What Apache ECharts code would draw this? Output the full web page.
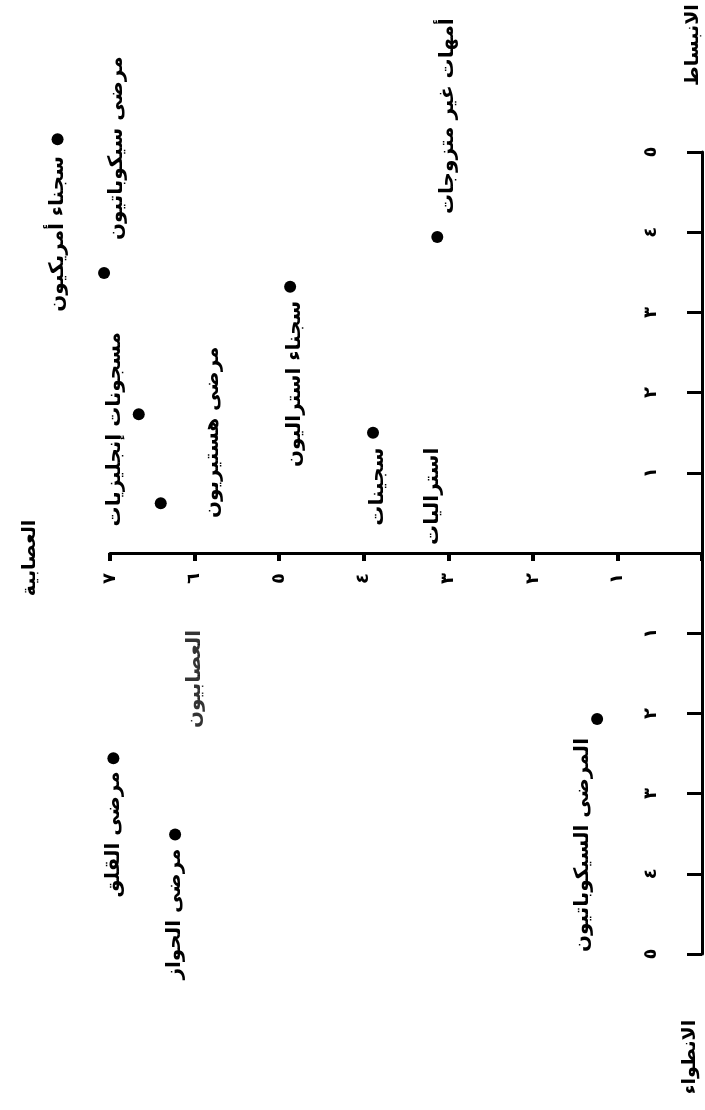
<!DOCTYPE html>
<html><head><meta charset="utf-8">
<script src="https://cdn.jsdelivr.net/npm/echarts@6/dist/echarts.min.js"></script>
<style>html,body{margin:0;padding:0;background:#fff}#c{width:705px;height:1110px}</style>
</head><body><div id="c"></div>
<script>
// ---- data ----
const groups = ['سجناء أمريكيون', 'مرضى سيكوباتيون', 'أمهات غير متزوجات', 'سجناء استراليون', 'مسجونات إنجليزيات', 'مرضى هستيريون', 'سجينات\nاستراليات', 'مرضى القلق', 'مرضى الحواز', 'المرضى السيكوباتيون'];
const neuroticism = [7.62, 7.07, 3.13, 4.87, 6.66, 6.40, 3.89, 6.96, 6.23, 1.24];
const extraversion = [5.16, 3.49, 3.94, 3.32, 1.73, 0.62, 1.50, -2.56, -3.51, -2.07];
const regionNames = ['العصابيون'];
const regionNeuroticism = [6.0];
const regionExtraversion = [-1.57];
const tickDigits = ['٠', '١', '٢', '٣', '٤', '٥', '٦', '٧'];
const axisTitles = { extraversion: 'الانبساط', introversion: 'الانطواء', neuroticism: 'العصابية' };

// ---- label placement (style) ----
const placement = [
  { dx: 0, dy: 17, dir: 'down' },
  { dx: 13, dy: -33, dir: 'up' },
  { dx: 11, dy: -23, dir: 'up' },
  { dx: 5, dy: 14, dir: 'down' },
  { dx: -24, dy: 15, dir: 'center' },
  { dx: 52, dy: -71, dir: 'center' },
  { dx: -23, dy: 15, dir: 'down', va: 'top', lh: 55 },
  { dx: 0, dy: 13, dir: 'down' },
  { dx: 0, dy: 14, dir: 'down' },
  { dx: -14, dy: 19, dir: 'down' }
];
const FONT = 'DejaVu Sans';
const SYM = 12;
const GRID = { left: 110, right: 3, top: 152, bottom: 156 };

function labelFor(p, size) {
  const align = p.dir === 'down' ? 'right' : (p.dir === 'up' ? 'left' : 'center');
  const o = {
    show: true, rotate: 90, formatter: '{b}',
    position: [size / 2 + p.dx, size / 2 + p.dy],
    align: align, verticalAlign: p.va || 'middle',
    color: '#000', fontSize: 20, fontWeight: 'bold', fontFamily: FONT
  };
  if (p.lh) o.lineHeight = p.lh;
  return o;
}

const points = groups.map((g, i) => ({
  name: g, value: [neuroticism[i], extraversion[i]], label: labelFor(placement[i], SYM)
}));
const regionPoints = regionNames.map((g, i) => ({
  name: g, value: [regionNeuroticism[i], regionExtraversion[i]],
  label: labelFor({ dx: 0, dy: 0, dir: 'center' }, 0)
}));

const titleStyle = { fill: '#000', font: 'bold 19px "' + FONT + '"', align: 'center', verticalAlign: 'middle' };
const plotH = 1110 - GRID.top - GRID.bottom;

const chart = echarts.init(document.getElementById('c'), null, { renderer: 'canvas' });
chart.setOption({
  backgroundColor: '#fff',
  animation: false,
  grid: Object.assign({ containLabel: false }, GRID),
  xAxis: {
    type: 'value', min: 0, max: 7, interval: 1, inverse: true,
    position: 'bottom', offset: -plotH / 2,
    axisLine: { onZero: false, lineStyle: { color: '#000', width: 3 } },
    axisTick: { show: true, length: 8, lineStyle: { color: '#000', width: 4 } },
    axisLabel: {
      rotate: 90, margin: 20, color: '#000', fontSize: 18, fontWeight: 'bold', fontFamily: FONT,
      formatter: v => v === 0 ? '' : tickDigits[Math.abs(v)]
    },
    splitLine: { show: false }
  },
  yAxis: {
    type: 'value', min: -5, max: 5, interval: 1, position: 'right',
    axisLine: { onZero: false, lineStyle: { color: '#000', width: 3 } },
    axisTick: { show: true, inside: true, length: 15, lineStyle: { color: '#000', width: 3 } },
    axisLabel: {
      inside: true, rotate: 90, margin: 42, color: '#000', fontSize: 18, fontWeight: 'bold', fontFamily: FONT,
      formatter: v => v === 0 ? '' : tickDigits[Math.abs(v)]
    },
    splitLine: { show: false }
  },
  graphic: [
    { type: 'text', x: 693, y: 45, rotation: Math.PI / 2, style: Object.assign({ text: axisTitles.extraversion }, titleStyle) },
    { type: 'text', x: 690, y: 1057, rotation: Math.PI / 2, style: Object.assign({ text: axisTitles.introversion }, titleStyle) },
    { type: 'text', x: 30, y: 558, rotation: Math.PI / 2, style: Object.assign({ text: axisTitles.neuroticism }, titleStyle) }
  ],
  series: [
    {
      type: 'scatter', symbol: 'circle', symbolSize: SYM, clip: false,
      itemStyle: { color: '#000', opacity: 1 }, data: points
    },
    {
      type: 'scatter', symbolSize: 0, clip: false,
      itemStyle: { color: 'rgba(0,0,0,0)' }, data: regionPoints
    }
  ]
});
</script></body></html>
